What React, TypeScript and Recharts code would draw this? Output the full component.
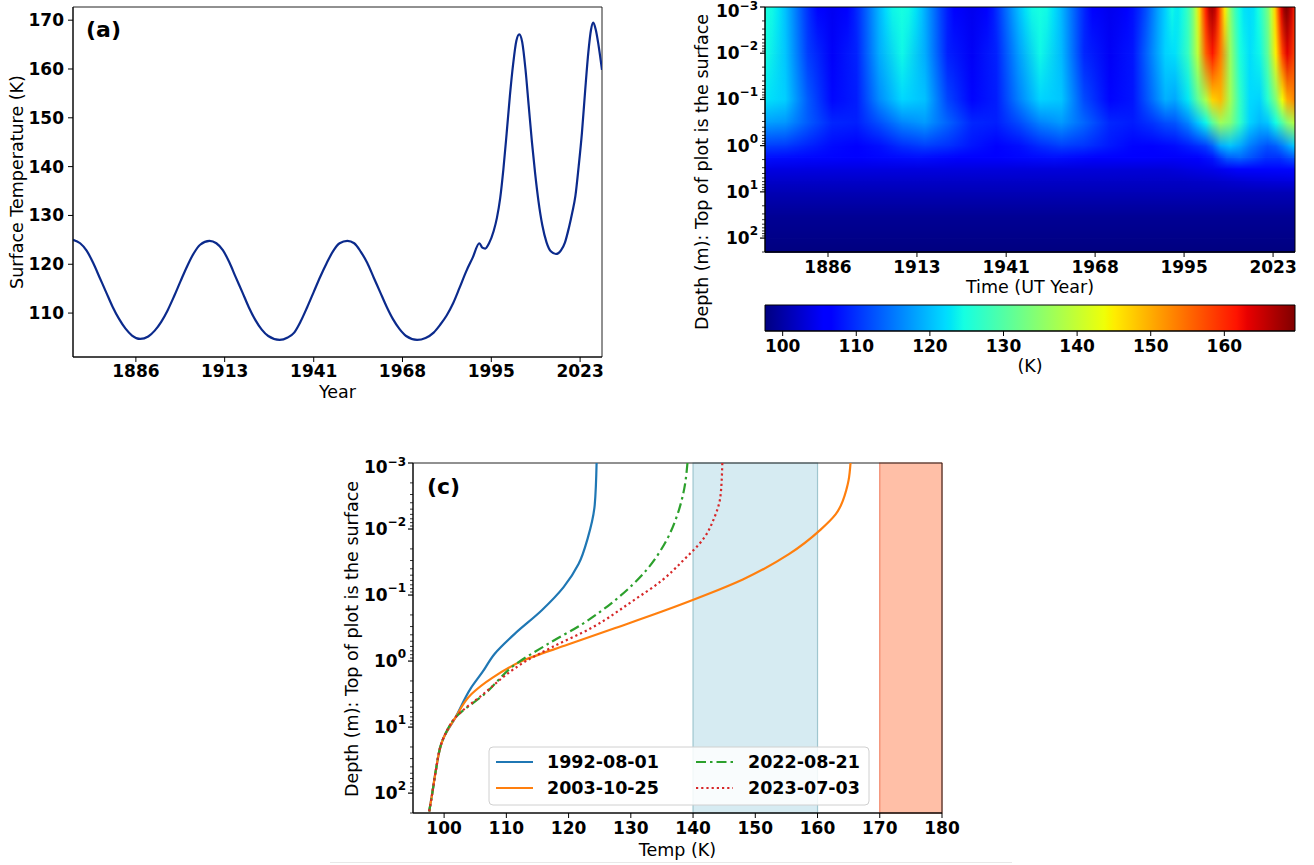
import React from "react";
import {
  ComposedChart,
  LineChart,
  Line,
  XAxis,
  YAxis,
  ReferenceArea,
} from "recharts";

const FONT = "'DejaVu Sans', sans-serif";
const TICK = { fontSize: 17, fontWeight: 700, fill: "#000", fontFamily: FONT };

// shared time axis for (a) and (b): ticks sit on JD 2410000, 2420000, ...
const YEAR_TICKS = [1886.19, 1913.56, 1941.02, 1968.39, 1995.77, 2023.15];
const YEAR_MIN = 1866.8;
const YEAR_MAX = 2029.9;

// ---- (a) surface temperature ----
const SURF_YEARS = [
  1866.8, 1869, 1871, 1873, 1875, 1877, 1879, 1881, 1883, 1885, 1887.5, 1890,
  1892, 1894, 1896, 1898, 1900, 1902, 1904, 1906, 1908.9, 1911, 1913, 1915,
  1917, 1919, 1921, 1923, 1925, 1927, 1930.5, 1933, 1935, 1937, 1939, 1941,
  1943, 1945, 1947, 1949, 1951.4, 1953.5, 1955.5, 1957.5, 1959.5, 1961.5,
  1963.5, 1965.5, 1967.5, 1969.5, 1972.9, 1975.5, 1978, 1980, 1982, 1984, 1986,
  1988, 1990, 1992.1, 1993.0, 1993.9, 1995, 1996.5, 1997.5, 1998.5, 1999.5,
  2000.5, 2001.5, 2002.5, 2003.5, 2004.4, 2005.3, 2006.3, 2007.3, 2008.3,
  2009.3, 2010.3, 2011.5, 2012.8, 2014.2, 2015.7, 2017.2, 2018.5, 2019.7,
  2020.7, 2021.7, 2022.7, 2023.7, 2024.7, 2025.7, 2026.5, 2027.2, 2028.0,
  2028.8, 2029.9,
];
const SURF_TEMPS = [
  125.0, 124.3, 122.8, 120.3, 117.3, 114.3, 111.3, 108.8, 106.8, 105.4, 104.7,
  105.2, 106.4, 108.2, 110.6, 113.5, 116.6, 119.6, 122.2, 124.0, 124.8, 124.3,
  122.9, 120.4, 117.3, 114.3, 111.2, 108.6, 106.6, 105.3, 104.5, 105.0, 106.0,
  108.3, 111.2, 114.3, 117.4, 120.2, 122.7, 124.3, 124.8, 124.3, 122.6, 120.3,
  117.3, 114.3, 111.3, 108.7, 106.7, 105.3, 104.5, 104.9, 106.0, 107.6, 109.5,
  112.0, 115.2, 118.5, 121.3, 124.3, 123.4, 123.2, 124.2, 126.8, 129.5, 133.5,
  139.5, 146.8, 154.5, 161.0, 165.8, 167.1, 165.5, 160.0, 152.5, 145.0, 138.5,
  133.0, 128.0, 124.5, 122.6, 122.1, 122.8, 124.5, 127.5, 130.5, 134.0, 140.0,
  146.8, 155.5, 163.5, 168.0, 169.5, 168.0, 165.0, 159.8,
];
const TEMP_TICKS = [110, 120, 130, 140, 150, 160, 170];

// ---- (b) temperature vs depth and time ----
const VMIN = 97.6;
const VMAX = 169.6;
const CBAR_TICKS = [100, 110, 120, 130, 140, 150, 160];

const HM_YEARS = [
  1867, 1873, 1880, 1887.5, 1895, 1902, 1909, 1916, 1923, 1930.5, 1938, 1945,
  1951.5, 1958, 1965, 1973, 1980, 1986, 1990, 1993, 1997, 2000, 2002.5, 2004.5,
  2007, 2010, 2013, 2016, 2019, 2021.5, 2024, 2026, 2027.5, 2030,
];
const T_1CM = [
  124.5, 120.6, 110.8, 105.2, 109.0, 118.8, 124.2, 118.8, 108.8, 105.0, 108.9,
  117.9, 124.2, 119.7, 109.3, 105.0, 108.1, 116.2, 121.5, 122.4, 127.5, 139.5,
  156.0, 161.5, 154.0, 136.0, 125.0, 122.3, 124.0, 131.0, 145.0, 158.0, 163.5,
  158.0,
];
const T_10CM = [
  122.6, 121.2, 113.0, 107.0, 108.6, 116.5, 121.8, 120.2, 111.4, 106.8, 108.6,
  115.8, 121.6, 120.6, 111.8, 106.8, 108.0, 114.5, 119.0, 118.3, 123.0, 131.0,
  138.0, 147.0, 149.0, 137.0, 127.0, 122.0, 121.5, 126.0, 134.0, 144.0, 150.0,
  153.0,
];
const T_32CM = [
  117.8, 117.2, 113.0, 109.2, 108.8, 112.2, 116.0, 117.5, 113.6, 109.3, 108.7,
  111.8, 115.8, 117.4, 113.8, 109.3, 108.5, 110.3, 112.0, 112.6, 116.0, 120.5,
  124.0, 130.5, 136.5, 134.0, 127.0, 121.5, 119.5, 120.5, 124.5, 130.0, 134.5,
  139.0,
];
const T_1M = [
  111.0, 110.6, 109.0, 107.2, 106.6, 107.6, 109.8, 111.0, 110.0, 108.0, 106.7,
  107.5, 109.6, 111.0, 110.2, 108.2, 106.8, 106.7, 107.0, 107.4, 108.6, 109.8,
  111.0, 113.5, 118.5, 120.5, 118.5, 115.5, 113.5, 112.3, 113.3, 115.5, 117.5,
  121.0,
];
const YEARS_178CM = [
  1867, 1880, 1895, 1914, 1927, 1938, 1956, 1969, 1980, 1993, 2000, 2004.5,
  2009, 2013, 2017, 2021, 2025, 2030,
];
const T_178CM = [
  107.6, 107.0, 105.8, 107.5, 106.4, 105.8, 107.5, 106.4, 105.7, 105.3, 106.3,
  108.0, 113.0, 114.0, 112.0, 110.0, 110.0, 113.0,
];
const YEARS_316CM = [1867, 1920, 1990, 2004, 2012, 2020, 2030];
const T_316CM = [103.8, 103.6, 103.1, 104.3, 106.8, 106.8, 107.0];
const YEARS_562CM = [1867, 1995, 2005, 2018, 2030];
const T_562CM = [102.2, 102.0, 102.3, 103.2, 103.6];
const DEEP_YEARS = [YEAR_MIN, YEAR_MAX];
const T_10M = [100.9, 101.1];
const T_32M = [99.0, 99.0];
const T_100M = [98.1, 98.1];
const T_200M = [97.6, 97.6];

const HEAT_ROWS = [
  { depth: 0.001, years: SURF_YEARS, temps: SURF_TEMPS },
  { depth: 0.01, years: HM_YEARS, temps: T_1CM },
  { depth: 0.1, years: HM_YEARS, temps: T_10CM },
  { depth: 0.316, years: HM_YEARS, temps: T_32CM },
  { depth: 1, years: HM_YEARS, temps: T_1M },
  { depth: 1.78, years: YEARS_178CM, temps: T_178CM },
  { depth: 3.16, years: YEARS_316CM, temps: T_316CM },
  { depth: 5.62, years: YEARS_562CM, temps: T_562CM },
  { depth: 10, years: DEEP_YEARS, temps: T_10M },
  { depth: 31.6, years: DEEP_YEARS, temps: T_32M },
  { depth: 100, years: DEEP_YEARS, temps: T_100M },
  { depth: 200, years: DEEP_YEARS, temps: T_200M },
];

// ---- (c) depth profiles on four dates ----
const DEPTH_1992 = [0.001, 0.0043, 0.0135, 0.034, 0.076, 0.17, 0.39, 0.78, 1.45, 2.57, 7.2, 14.6, 46.5, 100, 190];
const TEMP_1992 = [124.5, 124.2, 123.1, 121.6, 119.2, 115.7, 111.3, 108.1, 106.2, 104.3, 101.8, 99.9, 98.65, 98.1, 97.6];
const DEPTH_2003 = [0.001, 0.0018, 0.0024, 0.006, 0.0102, 0.024, 0.058, 0.1, 0.178, 0.316, 0.562, 1.0, 1.78, 3.16, 7.2, 14.6, 46.5, 100, 190];
const TEMP_2003 = [165.3, 165.0, 164.7, 162.9, 160.5, 155.4, 148.0, 142.0, 135.0, 127.5, 119.9, 112.5, 107.8, 104.4, 101.8, 99.9, 98.65, 98.1, 97.6];
const DEPTH_2022 = [0.001, 0.0024, 0.006, 0.015, 0.043, 0.107, 0.275, 0.55, 1.15, 3.1, 7.2, 14.6, 46.5, 100, 190];
const TEMP_2022 = [139.1, 138.6, 137.5, 135.7, 132.4, 128.1, 122.2, 116.7, 111.3, 106.6, 101.8, 99.9, 98.65, 98.1, 97.6];
const DEPTH_2023 = [0.001, 0.0032, 0.0068, 0.0135, 0.03, 0.06, 0.123, 0.31, 0.62, 1.02, 1.3, 3.1, 7.2, 14.6, 46.5, 100, 190];
const TEMP_2023 = [144.7, 144.4, 143.4, 141.8, 138.4, 135.0, 130.3, 123.8, 117.3, 113.0, 111.3, 106.4, 101.8, 99.9, 98.65, 98.1, 97.6];

const PROFILES = [
  { name: "1992-08-01", depths: DEPTH_1992, temps: TEMP_1992, color: "#1f77b4", dash: undefined },
  { name: "2003-10-25", depths: DEPTH_2003, temps: TEMP_2003, color: "#ff7f0e", dash: undefined },
  { name: "2022-08-21", depths: DEPTH_2022, temps: TEMP_2022, color: "#2ca02c", dash: "10 4 2.5 4" },
  { name: "2023-07-03", depths: DEPTH_2023, temps: TEMP_2023, color: "#d62728", dash: "2.2 3" },
];
const TEMP_C_TICKS = [100, 110, 120, 130, 140, 150, 160, 170, 180];

const DEPTH_MIN = 0.001;
const DEPTH_MAX = 200;
const DEPTH_MAJOR = [0.001, 0.01, 0.1, 1, 10, 100];
const DEPTH_TICKS = DEPTH_MAJOR.flatMap((d) =>
  [1, 2, 3, 4, 5, 6, 7, 8, 9].map((m) => Number((d * m).toPrecision(2)))
).filter((v) => v <= DEPTH_MAX);

// matplotlib "jet" colormap segments
const JET_R = [[0, 0], [0.35, 0], [0.66, 1], [0.89, 1], [1, 0.5]];
const JET_G = [[0, 0], [0.125, 0], [0.375, 1], [0.64, 1], [0.91, 0], [1, 0]];
const JET_B = [[0, 0.5], [0.11, 1], [0.34, 1], [0.65, 0], [1, 0]];
const JET_KNOTS = [0, 0.11, 0.125, 0.34, 0.35, 0.375, 0.64, 0.65, 0.66, 0.89, 0.91, 1];

function seg(pts: number[][], x: number) {
  for (let i = 1; i < pts.length; i++) {
    if (x <= pts[i][0]) {
      const [x0, y0] = pts[i - 1];
      const [x1, y1] = pts[i];
      return y0 + ((y1 - y0) * (x - x0)) / (x1 - x0);
    }
  }
  return pts[pts.length - 1][1];
}

function jet(v: number) {
  const x = Math.min(1, Math.max(0, v));
  const c = (p: number[][]) => Math.round(255 * seg(p, x));
  return `rgb(${c(JET_R)},${c(JET_G)},${c(JET_B)})`;
}

const tempColor = (t: number) => jet((t - VMIN) / (VMAX - VMIN));

const yearLabel = (v: number) => String(Math.floor(v));

// log axis tick: major gets "10^n" label, minor only a short mark
const LogTick = (props: any) => {
  const { x, y, payload } = props;
  const lg = Math.log10(payload.value);
  const exp = Math.round(lg);
  const major = Math.abs(lg - exp) < 1e-6;
  const axisX = x + 7;
  // keep the very top label inside the picture
  const nudge = y < 15 ? 4 : 0;
  return (
    <g>
      <line
        x1={axisX - (major ? 5 : 3)}
        x2={axisX}
        y1={y}
        y2={y}
        stroke="#000"
        strokeWidth={major ? 1.2 : 0.8}
      />
      {major && (
        <text
          x={x}
          y={y + 6 + nudge}
          textAnchor="end"
          fontFamily={FONT}
          fontWeight={700}
          fontSize={17}
          fill="#000"
        >
          10
          <tspan dy={nudge ? -7 : -9} fontSize={12}>
            {exp < 0 ? `\u2212${-exp}` : `${exp}`}
          </tspan>
        </text>
      )}
    </g>
  );
};

const AxisTitle = ({ x, y, rotate, children }: any) => (
  <text
    transform={`translate(${x},${y})${rotate ? " rotate(-90)" : ""}`}
    textAnchor="middle"
    dominantBaseline="central"
    fontFamily={FONT}
    fontSize={17.5}
    fill="#000"
  >
    {children}
  </text>
);

const PanelTag = ({ x, y, children }: any) => (
  <text x={x} y={y} fontFamily={FONT} fontSize={22} fontWeight={700} fill="#000">
    {children}
  </text>
);

function PanelA() {
  const data = SURF_YEARS.map((year, i) => ({ year, temp: SURF_TEMPS[i] }));
  return (
    <ComposedChart
      width={620}
      height={410}
      data={data}
      margin={{ top: 7, right: 18, bottom: 0, left: 0 }}
    >
      <XAxis
        type="number"
        dataKey="year"
        domain={[YEAR_MIN, YEAR_MAX]}
        allowDataOverflow
        ticks={YEAR_TICKS}
        interval={0}
        tickFormatter={yearLabel}
        tick={TICK}
        tickSize={5}
        tickMargin={3}
        height={53}
        stroke="#000"
      />
      <YAxis
        type="number"
        domain={[101, 172.7]}
        allowDataOverflow
        ticks={TEMP_TICKS}
        interval={0}
        tick={TICK}
        tickSize={5}
        tickMargin={4}
        width={73}
        stroke="#000"
      />
      <ReferenceArea
        x1={YEAR_MIN}
        x2={YEAR_MAX}
        y1={101}
        y2={172.7}
        fill="none"
        stroke="#222"
        strokeWidth={1}
      />
      <Line
        type="monotone"
        dataKey="temp"
        stroke="#0b2a8c"
        strokeWidth={2.2}
        dot={false}
        isAnimationActive={false}
      />
      <PanelTag x={86} y={37}>(a)</PanelTag>
      <AxisTitle x={337.5} y={392}>Year</AxisTitle>
      <AxisTitle x={17} y={182} rotate>
        Surface Temperature (K)
      </AxisTitle>
    </ComposedChart>
  );
}

const bandShape = (i: number) => (p: any) => (
  <g>
    <rect x={p.x} y={p.y} width={p.width} height={p.height + 0.6} fill={`url(#hm-row-${i})`} />
    <rect
      x={p.x}
      y={p.y}
      width={p.width}
      height={p.height + 0.6}
      fill={`url(#hm-row-${i + 1})`}
      mask="url(#hm-fade)"
    />
  </g>
);

function PanelB() {
  const axisData = YEAR_TICKS.map((year) => ({ year, depth: 1 }));
  return (
    <ComposedChart
      width={634}
      height={340}
      data={axisData}
      margin={{ top: 7, right: 19, bottom: 0, left: 0 }}
    >
      <defs>
        {HEAT_ROWS.map((row, i) => (
          <linearGradient key={i} id={`hm-row-${i}`} x1="0" y1="0" x2="1" y2="0">
            {row.years.map((yr, k) => (
              <stop
                key={k}
                offset={Math.min(1, Math.max(0, (yr - YEAR_MIN) / (YEAR_MAX - YEAR_MIN)))}
                stopColor={tempColor(row.temps[k])}
              />
            ))}
          </linearGradient>
        ))}
        <linearGradient id="hm-fade-grad" x1="0" y1="0" x2="0" y2="1">
          <stop offset="0" stopColor="#000" />
          <stop offset="1" stopColor="#fff" />
        </linearGradient>
        <mask id="hm-fade" maskContentUnits="objectBoundingBox">
          <rect x="0" y="0" width="1" height="1" fill="url(#hm-fade-grad)" />
        </mask>
      </defs>
      <XAxis
        type="number"
        dataKey="year"
        domain={[YEAR_MIN, YEAR_MAX]}
        allowDataOverflow
        ticks={YEAR_TICKS}
        interval={0}
        tickFormatter={yearLabel}
        tick={TICK}
        tickSize={5}
        tickMargin={4}
        height={88}
        stroke="#000"
      />
      <YAxis
        type="number"
        dataKey="depth"
        scale="log"
        domain={[DEPTH_MIN, DEPTH_MAX]}
        reversed
        allowDataOverflow
        ticks={DEPTH_TICKS}
        interval={0}
        tick={<LogTick />}
        tickLine={false}
        tickSize={5}
        tickMargin={2}
        width={85}
        stroke="#000"
      />
      {HEAT_ROWS.slice(0, -1).map((row, i) => (
        <ReferenceArea
          key={i}
          x1={YEAR_MIN}
          x2={YEAR_MAX}
          y1={row.depth}
          y2={HEAT_ROWS[i + 1].depth}
          shape={bandShape(i)}
        />
      ))}
      <ReferenceArea
        x1={YEAR_MIN}
        x2={YEAR_MAX}
        y1={DEPTH_MIN}
        y2={DEPTH_MAX}
        fill="none"
        stroke="#000"
        strokeWidth={1}
      />
      <PanelTag x={98} y={37}>(b)</PanelTag>
      <AxisTitle x={350} y={287}>Time (UT Year)</AxisTitle>
      <AxisTitle x={22} y={172} rotate>
        Depth (m): Top of plot is the surface
      </AxisTitle>
    </ComposedChart>
  );
}

function ColorBar() {
  const data = CBAR_TICKS.map((t) => ({ t, v: 0.5 }));
  return (
    <ComposedChart
      width={634}
      height={90}
      data={data}
      margin={{ top: 10, right: 19, bottom: 0, left: 85 }}
    >
      <defs>
        <linearGradient id="cbar-jet" x1="0" y1="0" x2="1" y2="0">
          {JET_KNOTS.map((k) => (
            <stop key={k} offset={k} stopColor={jet(k)} />
          ))}
        </linearGradient>
      </defs>
      <XAxis
        type="number"
        dataKey="t"
        domain={[VMIN, VMAX]}
        allowDataOverflow
        ticks={CBAR_TICKS}
        interval={0}
        tick={TICK}
        tickSize={5}
        tickMargin={4}
        height={54}
        stroke="#000"
      />
      <YAxis hide type="number" dataKey="v" domain={[0, 1]} />
      <ReferenceArea
        x1={VMIN}
        x2={VMAX}
        y1={0}
        y2={1}
        fill="url(#cbar-jet)"
        fillOpacity={1}
        stroke="#000"
        strokeWidth={1}
      />
      <AxisTitle x={350} y={71}>(K)</AxisTitle>
    </ComposedChart>
  );
}

// legend for (c), laid over the chart so the shaded bands stay underneath it
function LegendC() {
  const cols = [
    { lineX: 166, textX: 217 },
    { lineX: 366, textX: 418 },
  ];
  const rows = [312, 338];
  return (
    <svg
      width={640}
      height={415}
      style={{ position: "absolute", left: 0, top: 0, pointerEvents: "none" }}
    >
      <rect x={159} y={297} width={380} height={58} rx={4} fill="#fff" fillOpacity={0.85} stroke="#d0d0d0" />
      {PROFILES.map((p, i) => {
        const c = cols[Math.floor(i / 2)];
        const y = rows[i % 2];
        return (
          <g key={p.name}>
            <line
              x1={c.lineX}
              x2={c.lineX + 37}
              y1={y}
              y2={y}
              stroke={p.color}
              strokeWidth={2.2}
              strokeDasharray={p.dash}
            />
            <text
              x={c.textX}
              y={y}
              dominantBaseline="central"
              fontFamily={FONT}
              fontWeight={700}
              fontSize={17.5}
              fill="#000"
            >
              {p.name}
            </text>
          </g>
        );
      })}
    </svg>
  );
}

function PanelC() {
  return (
    <LineChart width={640} height={415} margin={{ top: 13, right: 28, bottom: 0, left: 0 }}>
      <XAxis
        type="number"
        dataKey="t"
        domain={[95, 180]}
        allowDataOverflow
        ticks={TEMP_C_TICKS}
        interval={0}
        tick={TICK}
        tickSize={5}
        tickMargin={4}
        height={52}
        stroke="#000"
      />
      <YAxis
        type="number"
        dataKey="d"
        scale="log"
        domain={[DEPTH_MIN, DEPTH_MAX]}
        reversed
        allowDataOverflow
        ticks={DEPTH_TICKS}
        interval={0}
        tick={<LogTick />}
        tickLine={false}
        tickSize={5}
        tickMargin={2}
        width={83}
        stroke="#000"
      />
      <ReferenceArea x1={140} x2={160} fill="#add8e6" fillOpacity={0.5} stroke="#9fc6cf" strokeWidth={1.2} />
      <ReferenceArea x1={170} x2={180} fill="#ff7f50" fillOpacity={0.5} stroke="#f2876a" strokeWidth={1.2} />
      <ReferenceArea
        x1={95}
        x2={180}
        y1={DEPTH_MIN}
        y2={DEPTH_MAX}
        fill="none"
        stroke="#222"
        strokeWidth={1}
      />
      {PROFILES.map((p) => (
        <Line
          key={p.name}
          data={p.depths.map((d, i) => ({ d, t: p.temps[i] }))}
          dataKey="d"
          type="monotoneY"
          stroke={p.color}
          strokeWidth={2.2}
          strokeDasharray={p.dash}
          dot={false}
          isAnimationActive={false}
        />
      ))}
      <PanelTag x={97} y={44}>(c)</PanelTag>
      <AxisTitle x={347.5} y={400}>Temp (K)</AxisTitle>
      <AxisTitle x={22} y={189} rotate>
        Depth (m): Top of plot is the surface
      </AxisTitle>
    </LineChart>
  );
}

export default function App() {
  return (
    <div
      style={{
        position: "absolute",
        left: 0,
        top: 0,
        width: 1314,
        height: 865,
        background: "#fff",
        fontFamily: FONT,
      }}
    >
      <div style={{ position: "absolute", left: 0, top: 0 }}>
        <PanelA />
      </div>
      <div style={{ position: "absolute", left: 680, top: 0 }}>
        <PanelB />
      </div>
      <div style={{ position: "absolute", left: 680, top: 295 }}>
        <ColorBar />
      </div>
      <div style={{ position: "absolute", left: 330, top: 450 }}>
        <PanelC />
        <LegendC />
      </div>
      <div
        style={{
          position: "absolute",
          left: 330,
          top: 862,
          width: 682,
          height: 1,
          background: "#e8e8e8",
        }}
      />
    </div>
  );
}
